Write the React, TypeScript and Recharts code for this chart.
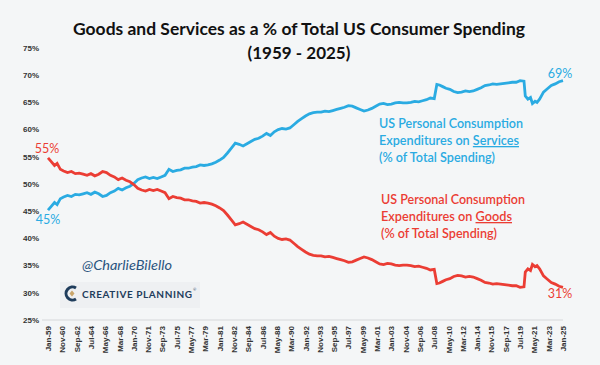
import { LineChart, Line, XAxis, YAxis } from "recharts"

const TICK_LABELS = [
  "Jan-59", "Nov-60", "Sep-62", "Jul-64", "May-66", "Mar-68", "Jan-70", "Nov-71", "Sep-73", "Jul-75",
  "May-77", "Mar-79", "Jan-81", "Nov-82", "Sep-84", "Jul-86", "May-88", "Mar-90", "Jan-92", "Nov-93",
  "Sep-95", "Jul-97", "May-99", "Mar-01", "Jan-03", "Nov-04", "Sep-06", "Jul-08", "May-10", "Mar-12",
  "Jan-14", "Nov-15", "Sep-17", "Jul-19", "May-21", "Mar-23", "Jan-25",
]

const Y_TICKS = [25, 30, 35, 40, 45, 50, 55, 60, 65, 70, 75]

// decimal years of the points
const YEARS = [
  1959.0, 1959.4, 1959.8, 1960.2, 1960.6, 1961.0, 1961.5, 1962.0, 1962.5, 1963.0,
  1963.5, 1964.0, 1964.5, 1965.0, 1965.5, 1966.0, 1966.5, 1967.0, 1967.5, 1968.0,
  1968.5, 1969.0, 1969.5, 1970.0, 1970.5, 1971.0, 1971.5, 1972.0, 1972.5, 1973.0,
  1973.5, 1974.0, 1974.5, 1975.0, 1975.5, 1976.0, 1976.5, 1977.0, 1977.5, 1978.0,
  1978.5, 1979.0, 1979.5, 1980.0, 1980.5, 1981.0, 1981.5, 1982.0, 1982.5, 1983.0,
  1983.5, 1984.0, 1984.5, 1985.0, 1985.5, 1986.0, 1986.5, 1987.0, 1987.5, 1988.0,
  1988.5, 1989.0, 1989.5, 1990.0, 1990.5, 1991.0, 1991.5, 1992.0, 1992.5, 1993.0,
  1993.5, 1994.0, 1994.5, 1995.0, 1995.5, 1996.0, 1996.5, 1997.0, 1997.5, 1998.0,
  1998.5, 1999.0, 1999.5, 2000.0, 2000.5, 2001.0, 2001.5, 2002.0, 2002.5, 2003.0,
  2003.5, 2004.0, 2004.5, 2005.0, 2005.5, 2006.0, 2006.5, 2007.0, 2007.5, 2008.0,
  2008.5, 2008.8, 2009.2, 2009.6, 2010.0, 2010.5, 2011.0, 2011.5, 2012.0, 2012.5,
  2013.0, 2013.5, 2014.0, 2014.5, 2015.0, 2015.5, 2016.0, 2016.5, 2017.0, 2017.5,
  2018.0, 2018.5, 2019.0, 2019.5, 2020.0, 2020.2, 2020.5, 2020.8, 2021.1, 2021.4,
  2021.7, 2022.0, 2022.5, 2023.0, 2023.5, 2024.0, 2024.5, 2025.0,
]

const SERVICES = [
  45.2, 45.9, 46.6, 46.2, 47.3, 47.6, 47.9, 47.7, 48.1, 48.0,
  48.2, 48.4, 48.1, 48.5, 48.2, 47.7, 47.9, 48.4, 48.7, 49.2,
  48.9, 49.3, 49.6, 50.1, 50.8, 51.1, 51.3, 51.0, 51.2, 51.0,
  51.3, 51.6, 52.7, 52.3, 52.5, 52.6, 52.9, 52.9, 53.1, 53.2,
  53.5, 53.4, 53.5, 53.7, 54.0, 54.4, 54.9, 55.7, 56.6, 57.5,
  57.3, 57.0, 57.4, 57.8, 58.2, 58.4, 58.8, 59.3, 58.9, 59.6,
  60.0, 60.2, 60.1, 60.3, 60.9, 61.5, 62.0, 62.5, 62.9, 63.1,
  63.2, 63.2, 63.4, 63.3, 63.5, 63.7, 63.9, 64.1, 64.4, 64.3,
  64.0, 63.7, 63.4, 63.6, 63.9, 64.3, 64.7, 64.8, 64.6, 64.7,
  64.9, 65.0, 64.9, 64.9, 65.0, 65.2, 65.1, 65.3, 65.5, 65.8,
  65.7, 68.3, 68.2, 67.9, 67.6, 67.4, 67.0, 66.8, 66.9, 67.1,
  67.0, 67.1, 67.4, 67.7, 68.1, 68.2, 68.4, 68.3, 68.4, 68.5,
  68.6, 68.7, 68.7, 69.0, 68.9, 66.2, 65.6, 65.9, 64.8, 65.2,
  65.0, 65.6, 66.9, 67.5, 68.1, 68.4, 68.8, 69.0,
]

const GOODS = [
  54.8, 54.1, 53.4, 53.8, 52.7, 52.4, 52.1, 52.3, 51.9, 52.0,
  51.8, 51.6, 51.9, 51.5, 51.8, 52.3, 52.1, 51.6, 51.3, 50.8,
  51.1, 50.7, 50.4, 49.9, 49.2, 48.9, 48.7, 49.0, 48.8, 49.0,
  48.7, 48.4, 47.3, 47.7, 47.5, 47.4, 47.1, 47.1, 46.9, 46.8,
  46.5, 46.6, 46.5, 46.3, 46.0, 45.6, 45.1, 44.3, 43.4, 42.5,
  42.7, 43.0, 42.6, 42.2, 41.8, 41.6, 41.2, 40.7, 41.1, 40.4,
  40.0, 39.8, 39.9, 39.7, 39.1, 38.5, 38.0, 37.5, 37.1, 36.9,
  36.8, 36.8, 36.6, 36.7, 36.5, 36.3, 36.1, 35.9, 35.6, 35.7,
  36.0, 36.3, 36.6, 36.4, 36.1, 35.7, 35.3, 35.2, 35.4, 35.3,
  35.1, 35.0, 35.1, 35.1, 35.0, 34.8, 34.9, 34.7, 34.5, 34.2,
  34.3, 31.7, 31.8, 32.1, 32.4, 32.6, 33.0, 33.2, 33.1, 32.9,
  33.0, 32.9, 32.6, 32.3, 31.9, 31.8, 31.6, 31.7, 31.6, 31.5,
  31.4, 31.3, 31.3, 31.0, 31.1, 33.8, 34.4, 34.1, 35.2, 34.8,
  35.0, 34.4, 33.1, 32.5, 31.9, 31.6, 31.2, 31.0,
]

const BLUE = "#2AABE2"
const RED = "#EB3D34"
const NAVY = "#1F3D5C"
const TICK_STEP = 22

const data = YEARS.map((yr, i) => ({
  t: Math.round((yr - 1959) * 12),
  services: SERVICES[i],
  goods: GOODS[i],
}))
const xTicks = TICK_LABELS.map((_, i) => i * TICK_STEP)
const LAST = data.length - 1

function XTick({ x, y, payload }: any) {
  return (
    <g transform={`translate(${x},${y})`}>
      <text transform="rotate(-90)" textAnchor="end" x={-1} dy={3} fontSize={8} fontWeight={700}
        fontFamily="Liberation Sans, Arial" fill="#333">
        {TICK_LABELS[payload.value / TICK_STEP]}
      </text>
    </g>
  )
}

// only the first and last point get a % label
const endLabel = (color: string, first: [number, number], last: [number, number]) => (p: any) => {
  if (p.index !== 0 && p.index !== LAST) return <g key={`l${p.index}`} />
  const off = p.index === 0 ? first : last
  return (
    <text key={`l${p.index}`} x={p.x + off[0]} y={p.y + off[1]} textAnchor="middle" fontSize={12.5}
      fontFamily="Lato" fill={color}>
      {Math.round(p.value)}%
    </text>
  )
}

const noteFont = { fontFamily: "Lato", fontSize: 13, fontWeight: 600 }

export default function App() {
  return (
    <div style={{ position: "fixed", left: 0, top: 0, width: 600, height: 365, background: "#F4F6F7" }}>
      <LineChart width={600} height={365} data={data} margin={{ top: 48, right: 37, bottom: 0, left: 0 }}>
        <XAxis dataKey="t" type="number" domain={[0, 792]} ticks={xTicks} interval={0} tick={<XTick />}
          tickLine={false} tickSize={0} tickMargin={5} height={45} padding={{ left: 6, right: 0 }}
          axisLine={{ stroke: "#D6D8DA" }} />
        <YAxis domain={[25, 75]} ticks={Y_TICKS} tickFormatter={(v) => `${v}%`} width={42}
          axisLine={false} tickLine={false} tickSize={0} tickMargin={3}
          tick={{ fontSize: 8, fontWeight: 700, fill: "#333", fontFamily: "Liberation Sans, Arial" }} />
        <Line dataKey="services" stroke={BLUE} strokeWidth={2.8} dot={false} isAnimationActive={false}
          label={endLabel(BLUE, [0, 14], [-3, -3])} />
        <Line dataKey="goods" stroke={RED} strokeWidth={2.8} dot={false} isAnimationActive={false}
          label={endLabel(RED, [-1, -5], [-3, 11])} />
      </LineChart>

      <svg width={600} height={365} style={{ position: "absolute", left: 0, top: 0, pointerEvents: "none" }}>
        <g fontFamily="Lato" fontWeight={700} fill="#111" textAnchor="middle">
          <text x={299} y={35} fontSize={17} textLength={452} lengthAdjust="spacingAndGlyphs">
            Goods and Services as a % of Total US Consumer Spending
          </text>
          <text x={299} y={59} fontSize={17}>(1959 - 2025)</text>
        </g>

        <g {...noteFont} fill={BLUE}>
          <text x={379} y={128} textLength={144} lengthAdjust="spacingAndGlyphs">US Personal Consumption</text>
          <text x={379} y={145} textLength={140} lengthAdjust="spacingAndGlyphs">
            Expenditures on <tspan textDecoration="underline">Services</tspan>
          </text>
          <text x={379} y={162} textLength={116} lengthAdjust="spacingAndGlyphs">(% of Total Spending)</text>
        </g>
        <g {...noteFont} fill={RED}>
          <text x={381} y={204} textLength={144} lengthAdjust="spacingAndGlyphs">US Personal Consumption</text>
          <text x={381} y={221} textLength={131} lengthAdjust="spacingAndGlyphs">
            Expenditures on <tspan textDecoration="underline">Goods</tspan>
          </text>
          <text x={381} y={238} textLength={116} lengthAdjust="spacingAndGlyphs">(% of Total Spending)</text>
        </g>

        <text x={82} y={270} fontFamily="Lato" fontStyle="italic" fontSize={14} fill="#2B5580"
          textLength={90} lengthAdjust="spacingAndGlyphs">@CharlieBilello</text>

        <rect x={60} y={282} width={140} height={26} fill="#EEF0F2" />
        <path d="M76 288 A6.5 6.5 0 1 0 76 299" fill="none" stroke={NAVY} strokeWidth={3} />
        <path d="M72 290.5 L74.5 293.5 L72 296.5 L69.5 293.5 Z" fill="#C9A66B" />
        <text x={82} y={297.5} fontFamily="Lato" fontWeight={700} fontSize={10} fill={NAVY}
          textLength={110} lengthAdjust="spacing">CREATIVE PLANNING</text>
        <text x={193} y={291} fontFamily="Lato" fontSize={4} fill={NAVY}>®</text>
      </svg>
    </div>
  )
}
